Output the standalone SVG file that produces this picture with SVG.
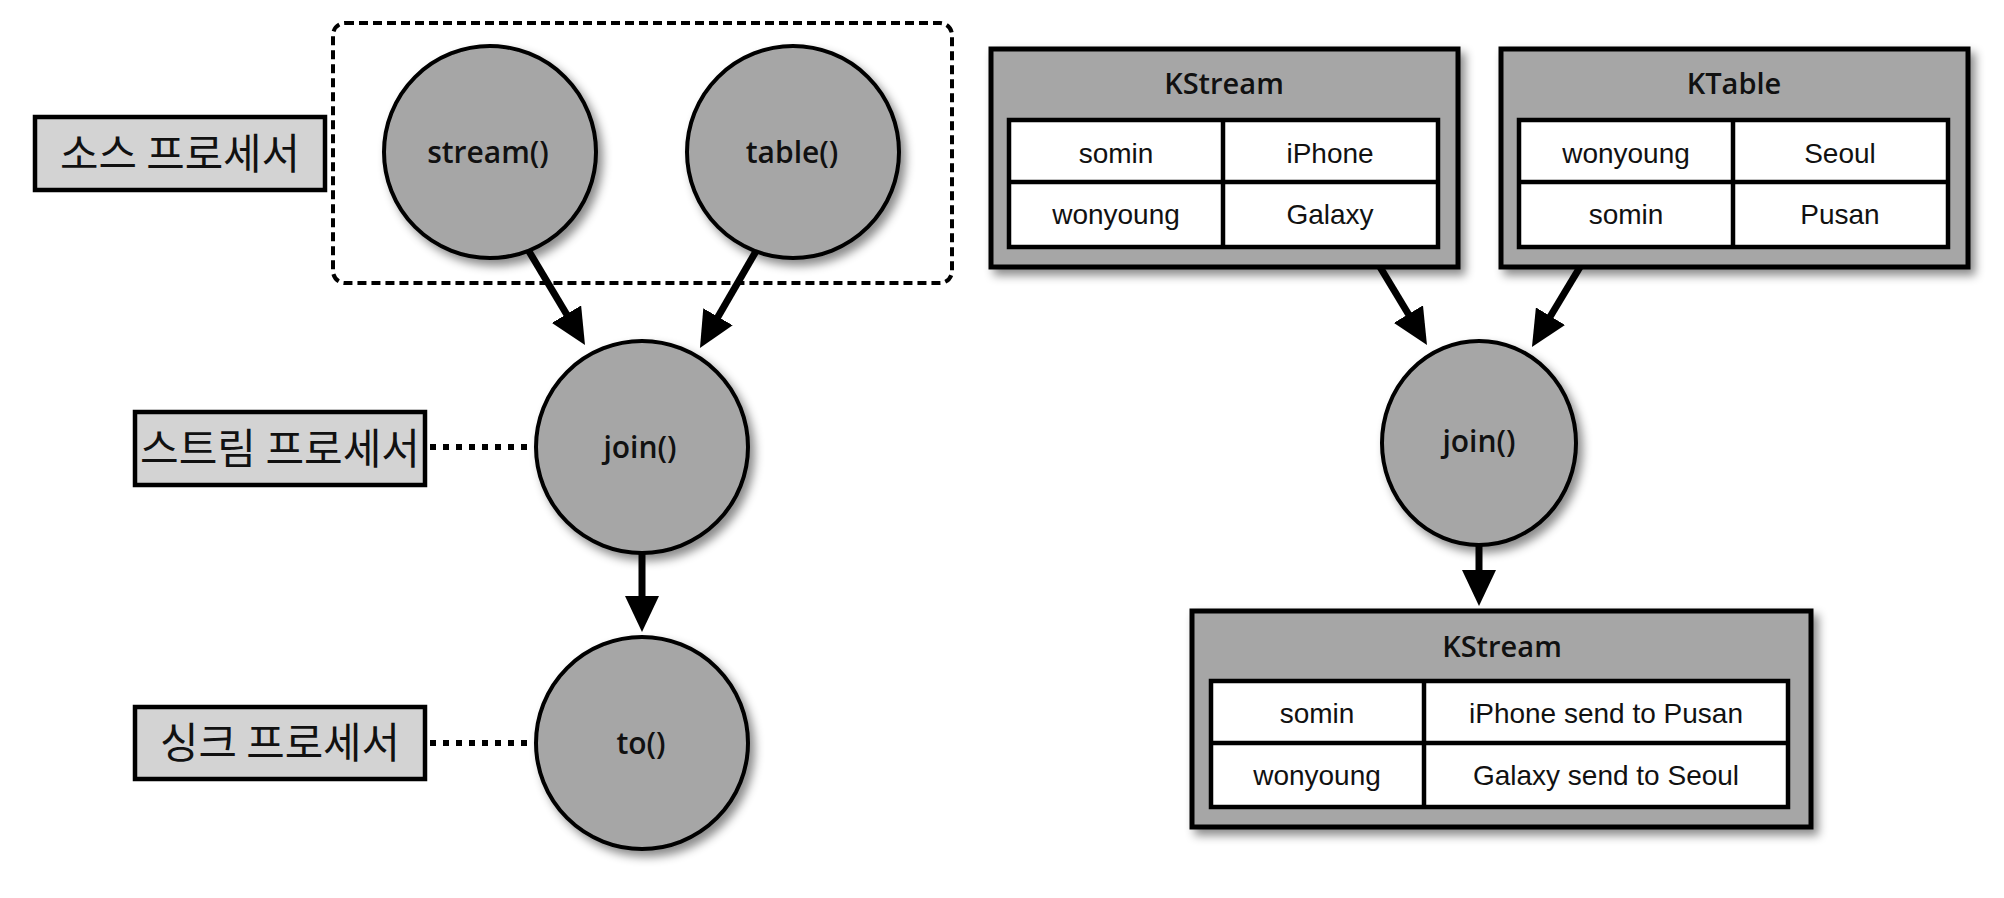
<svg xmlns="http://www.w3.org/2000/svg" width="2004" height="898" viewBox="0 0 2004 898">
  <defs>
    <filter id="shadow" x="-20%" y="-20%" width="140%" height="140%">
      <feDropShadow dx="5" dy="6" stdDeviation="5" flood-color="#000" flood-opacity="0.45"/>
    </filter>
    <marker id="arrow" markerUnits="userSpaceOnUse" markerWidth="36" markerHeight="34" refX="6" refY="17" orient="auto">
      <path d="M0,0 L36,17 L0,34 z" fill="#000"/>
    </marker>
  </defs>
  <style>
    .proc { fill: #a6a6a6; stroke: #000; stroke-width: 4; filter: url(#shadow); }
    .ptext { font-family: "Open Sans", "Liberation Sans", sans-serif; font-weight: 600; font-size: 30px; fill: #111; text-anchor: middle; }
    .label { fill: #d3d3d3; stroke: #000; stroke-width: 4.5; }
    .ltext { font-family: "Noto Sans CJK KR", "Noto Sans", sans-serif; font-weight: 400; font-size: 42px; fill: #111; text-anchor: middle; }
    .box { fill: #a6a6a6; stroke: #000; stroke-width: 5; filter: url(#shadow); }
    .title { font-family: "Open Sans", "Liberation Sans", sans-serif; font-weight: 600; font-size: 29px; fill: #111; text-anchor: middle; }
    .tbl { fill: #fff; stroke: #000; stroke-width: 4.5; }
    .div { stroke: #000; stroke-width: 4.5; }
    .cell { font-family: "Liberation Sans", Arial, sans-serif; font-size: 28px; fill: #111; text-anchor: middle; }
    .arrow { stroke: #000; stroke-width: 7; fill: none; marker-end: url(#arrow); }
    .dots { stroke: #000; stroke-width: 6; stroke-dasharray: 6 7; fill: none; }
    .group { fill: none; stroke: #000; stroke-width: 4; stroke-dasharray: 9 5; }
  </style>

  <g id="source-group">
    <rect class="group" x="333" y="23" width="619" height="260" rx="12"/>
  </g>

  <g id="connectors">
    <line class="arrow" x1="519.7" y1="235.8" x2="569.6" y2="319.3"/>
    <line class="arrow" x1="765" y1="235.7" x2="715" y2="322"/>
    <line class="arrow" x1="642" y1="540" x2="642" y2="602"/>
    <line class="dots" x1="430" y1="447" x2="527" y2="447"/>
    <line class="dots" x1="430" y1="743" x2="527" y2="743"/>
    <line class="arrow" x1="1369.7" y1="249.9" x2="1411.5" y2="319.3"/>
    <line class="arrow" x1="1590.3" y1="249.9" x2="1547.4" y2="321.3"/>
    <line class="arrow" x1="1479" y1="530" x2="1479" y2="576"/>
  </g>

  <g id="label-source">
    <rect class="label" x="35" y="117" width="290" height="73"/>
    <text class="ltext" x="180" y="169" textLength="240" lengthAdjust="spacingAndGlyphs">소스 프로세서</text>
  </g>
  <g id="label-stream">
    <rect class="label" x="135" y="412" width="290" height="73"/>
    <text class="ltext" x="280" y="464" textLength="280" lengthAdjust="spacingAndGlyphs">스트림 프로세서</text>
  </g>
  <g id="label-sink">
    <rect class="label" x="135" y="707" width="290" height="72"/>
    <text class="ltext" x="280" y="758" textLength="240" lengthAdjust="spacingAndGlyphs">싱크 프로세서</text>
  </g>

  <g id="node-stream">
    <circle class="proc" cx="490" cy="152" r="106"/>
    <text class="ptext" x="488" y="163">stream()</text>
  </g>
  <g id="node-table">
    <circle class="proc" cx="793" cy="152" r="106"/>
    <text class="ptext" x="792" y="163">table()</text>
  </g>
  <g id="node-join">
    <circle class="proc" cx="642" cy="447" r="106"/>
    <text class="ptext" x="640" y="458">join()</text>
  </g>
  <g id="node-to">
    <circle class="proc" cx="642" cy="743" r="106"/>
    <text class="ptext" x="641" y="754">to()</text>
  </g>

  <g id="kstream-in">
    <rect class="box" x="991" y="49" width="467" height="218"/>
    <text class="title" x="1224" y="94">KStream</text>
    <rect class="tbl" x="1009" y="120" width="429" height="127"/>
    <line class="div" x1="1009" y1="182" x2="1438" y2="182"/>
    <line class="div" x1="1223" y1="120" x2="1223" y2="247"/>
    <text class="cell" x="1116" y="163">somin</text>
    <text class="cell" x="1330" y="163">iPhone</text>
    <text class="cell" x="1116" y="224">wonyoung</text>
    <text class="cell" x="1330" y="224">Galaxy</text>
  </g>

  <g id="ktable">
    <rect class="box" x="1501" y="49" width="467" height="218"/>
    <text class="title" x="1734" y="94">KTable</text>
    <rect class="tbl" x="1519" y="120" width="429" height="127"/>
    <line class="div" x1="1519" y1="182" x2="1948" y2="182"/>
    <line class="div" x1="1733" y1="120" x2="1733" y2="247"/>
    <text class="cell" x="1626" y="163">wonyoung</text>
    <text class="cell" x="1840" y="163">Seoul</text>
    <text class="cell" x="1626" y="224">somin</text>
    <text class="cell" x="1840" y="224">Pusan</text>
  </g>

  <g id="node-join-right">
    <ellipse class="proc" cx="1479" cy="443" rx="97" ry="102"/>
    <text class="ptext" x="1479" y="452">join()</text>
  </g>

  <g id="kstream-out">
    <rect class="box" x="1192" y="611" width="619" height="216"/>
    <text class="title" x="1502" y="657">KStream</text>
    <rect class="tbl" x="1211" y="681" width="577" height="126"/>
    <line class="div" x1="1211" y1="743" x2="1788" y2="743"/>
    <line class="div" x1="1424" y1="681" x2="1424" y2="807"/>
    <text class="cell" x="1317" y="723">somin</text>
    <text class="cell" x="1606" y="723">iPhone send to Pusan</text>
    <text class="cell" x="1317" y="785">wonyoung</text>
    <text class="cell" x="1606" y="785">Galaxy send to Seoul</text>
  </g>
</svg>
